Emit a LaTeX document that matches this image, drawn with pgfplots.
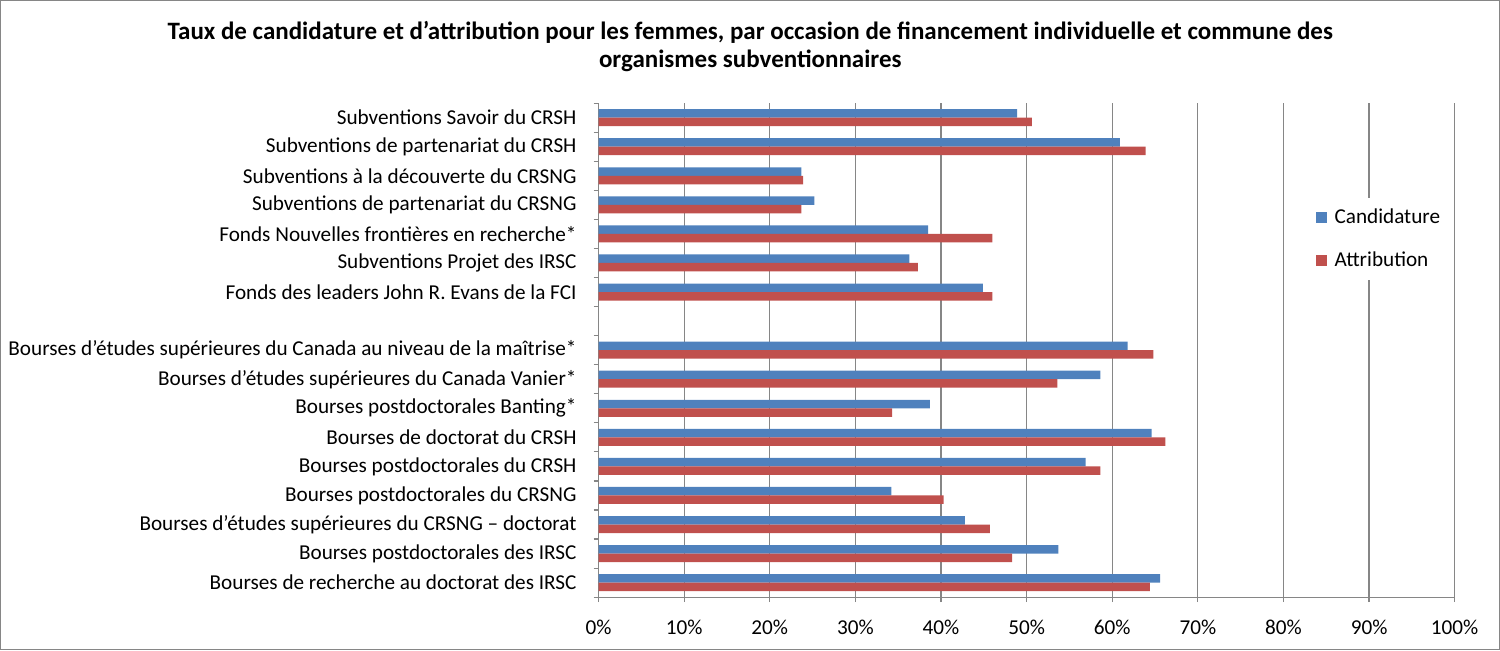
\documentclass[border=0pt]{standalone}
\usepackage{fontspec}
\setmainfont{Carlito}
\usepackage{pgfplots}
\pgfplotsset{compat=1.18}
\definecolor{cblue}{HTML}{4F81BD}
\definecolor{cred}{HTML}{C0504D}
\definecolor{gridgray}{HTML}{868686}
\newcommand{\lblfont}{\fontsize{10.6}{12}\selectfont}
\begin{document}
\begin{tikzpicture}
\begin{axis}[
  scale only axis, width=428pt, height=247pt,
  at={(0,0)}, anchor=south west,
  xbar, bar width=4.25pt,
  xmin=0, xmax=100, ymin=-0.5, ymax=16.5,
  axis x line*=bottom, axis y line*=left,
  axis line style={gridgray, line width=0.6pt},
  xtick={0,10,20,30,40,50,60,70,80,90,100},
  xticklabels={0\%,10\%,20\%,30\%,40\%,50\%,60\%,70\%,80\%,90\%,100\%},
  xmajorgrids, grid style={gridgray, line width=0.6pt},
  tick align=outside, major tick length=2.5pt,
  tick style={gridgray, line width=0.6pt},
  ytick={-0.5,0.5,...,16.5}, yticklabels={},
  extra y ticks={0,1,2,3,4,5,6,7,8,10,11,12,13,14,15,16},
  extra y tick labels={
    Bourses de recherche au doctorat des IRSC,
    Bourses postdoctorales des IRSC,
    Bourses d’études supérieures du CRSNG – doctorat,
    Bourses postdoctorales du CRSNG,
    Bourses postdoctorales du CRSH,
    Bourses de doctorat du CRSH,
    Bourses postdoctorales Banting*,
    Bourses d’études supérieures du Canada Vanier*,
    Bourses d’études supérieures du Canada au niveau de la maîtrise*,
    Fonds des leaders John R. Evans de la FCI,
    Subventions Projet des IRSC,
    Fonds Nouvelles frontières en recherche*,
    Subventions de partenariat du CRSNG,
    Subventions à la découverte du CRSNG,
    Subventions de partenariat du CRSH,
    Subventions Savoir du CRSH},
  extra y tick style={major tick length=0pt},
  yticklabel style={font=\lblfont, xshift=-7.5pt},
  xticklabel style={font=\lblfont, anchor=base, yshift=-16pt},
  legend style={at={(0.83,0.808)}, anchor=north west, draw=none, fill=white,
    font=\lblfont, row sep=9pt, inner sep=3pt},
  legend cell align=left,
]
\addplot[fill=cblue, draw=none, bar shift=2.125pt,
  legend image code/.code={\fill[cblue] (0pt,-2.75pt) rectangle (5.5pt,2.75pt); \path (7.5pt,0pt);}]
  coordinates {
  (65.6,0) (53.7,1) (42.8,2) (34.2,3) (56.9,4) (64.6,5) (38.7,6) (58.6,7) (61.8,8)
  (44.9,10) (36.3,11) (38.5,12) (25.2,13) (23.7,14) (60.9,15) (48.9,16)};
\addlegendentry{Candidature}
\addplot[fill=cred, draw=none, bar shift=-2.125pt,
  legend image code/.code={\fill[cred] (0pt,-2.75pt) rectangle (5.5pt,2.75pt); \path (7.5pt,0pt);}]
  coordinates {
  (64.4,0) (48.3,1) (45.7,2) (40.3,3) (58.6,4) (66.2,5) (34.3,6) (53.6,7) (64.8,8)
  (46.0,10) (37.3,11) (46.0,12) (23.7,13) (23.9,14) (63.9,15) (50.6,16)};
\addlegendentry{Attribution}
\end{axis}
\node[align=center, font=\fontsize{12.5}{14.3}\selectfont\bfseries] at (75.85pt,275.2pt)
  {Taux de candidature et d’attribution pour les femmes, par occasion de financement individuelle et commune des\\organismes subventionnaires};
\draw[gridgray, line width=0.5pt] (-299pt,-26.2pt) rectangle (450.4pt,298.3pt);
\end{tikzpicture}
\end{document}
